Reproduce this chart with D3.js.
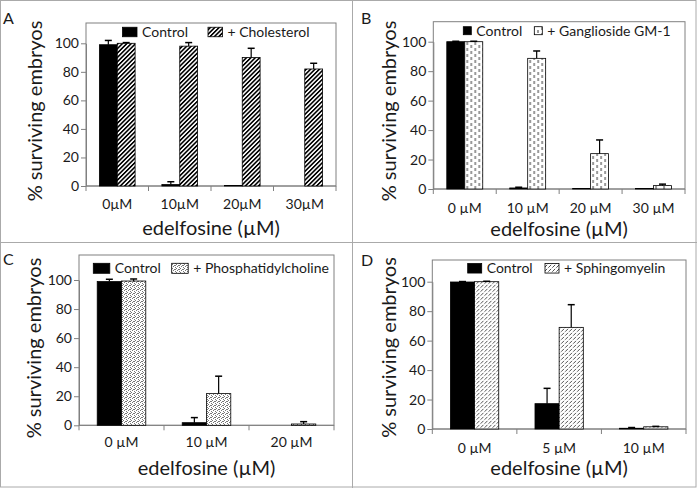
<!DOCTYPE html>
<html>
<head>
<meta charset="utf-8">
<script src="https://cdn.jsdelivr.net/npm/d3@7"></script>
<style>
  body { margin: 0; background: #fff; }
  svg text { font-family: Lato, "Open Sans", sans-serif; fill: #1a1a1a; }
</style>
</head>
<body>
<div id="chart"></div>
<script>
'use strict';

// ---- data ----
const yTicks = [0, 20, 40, 60, 80, 100];

const catsA = ["0µM", "10µM", "20µM", "30µM"];
const controlA = [99, 1, 0.3, 0];
const controlErrA = [3, 2, 0, 0];
const treatedA = [100, 98, 90, 82];
const treatedErrA = [0.5, 2.5, 6.5, 4];
const legendA = ["Control", "+ Cholesterol"];

const catsB = ["0 µM", "10 µM", "20 µM", "30 µM"];
const controlB = [100, 0.7, 0.3, 0.3];
const controlErrB = [0.3, 0.5, 0, 0];
const treatedB = [100, 88.7, 24, 2.3];
const treatedErrB = [0.3, 5, 9.3, 1];
const legendB = ["Control", "+ Ganglioside GM-1"];

const catsC = ["0 µM", "10 µM", "20 µM"];
const controlC = [98.9, 1.8, 0];
const controlErrC = [1.6, 3.5, 0];
const treatedC = [99.3, 21.8, 0.9];
const treatedErrC = [1.4, 12, 1.6];
const legendC = ["Control", "+ Phosphatidylcholine"];

const catsD = ["0 µM", "5 µM", "10 µM"];
const controlD = [99.8, 17.2, 0.5];
const controlErrD = [0.3, 10.4, 0.5];
const treatedD = [100, 69, 1.5];
const treatedErrD = [0.3, 15.4, 0.3];
const legendD = ["Control", "+ Sphingomyelin"];

// ---- layout of each panel (pixels) ----
const panels = [
    { letter: "A", lx: 3, ly: 24, cats: catsA, control: controlA, controlErr: controlErrA, treated: treatedA, treatedErr: treatedErrA, legend: legendA, fill: "url(#diag-wide)",
      left: 86, right: 336, top: 23, zeroY: 186, hundredY: 43.3, labelX: 35, labelY: 111, tickY: 204, titleY: 228,
      legY: 32, sw: 14.5, sh: 9.5, ctrlX: 122.5, trtX: 208 },
    { letter: "B", lx: 361, ly: 24, cats: catsB, control: controlB, controlErr: controlErrB, treated: treatedB, treatedErr: treatedErrB, legend: legendB, fill: "url(#dash-vert)",
      left: 433.3, right: 685, top: 21.7, zeroY: 189, hundredY: 41.7, labelX: 388.5, labelY: 111, tickY: 208.3, titleY: 228.7,
      legY: 30.7, sw: 8, sh: 8, ctrlX: 463.3, trtX: 534.3 },
    { letter: "C", lx: 3, ly: 265, cats: catsC, control: controlC, controlErr: controlErrC, treated: treatedC, treatedErr: treatedErrC, legend: legendC, fill: "url(#stipple)",
      left: 79, right: 334, top: 255, zeroY: 425.3, hundredY: 280, labelX: 33.5, labelY: 348, tickY: 442.3, titleY: 467.7,
      legY: 268.3, sw: 16.5, sh: 10, ctrlX: 93.3, trtX: 171.7 },
    { letter: "D", lx: 361, ly: 266, cats: catsD, control: controlD, controlErr: controlErrD, treated: treatedD, treatedErr: treatedErrD, legend: legendD, fill: "url(#dash-diag)",
      left: 432.3, right: 686, top: 260, zeroY: 429, hundredY: 281.7, labelX: 389, labelY: 347.5, tickY: 448.3, titleY: 467.7,
      legY: 268.3, sw: 14, sh: 9.5, ctrlX: 467.7, trtX: 545 }
];

const width = 697, height = 488;

const svg = d3.select("#chart").append("svg")
    .attr("width", width)
    .attr("height", height);

// fill patterns
const defs = svg.append("defs");

const pA = defs.append("pattern").attr("id", "diag-wide")
    .attr("patternUnits", "userSpaceOnUse")
    .attr("width", 3.1).attr("height", 3.1)
    .attr("patternTransform", "rotate(45)");
pA.append("rect").attr("width", 3.1).attr("height", 3.1).attr("fill", "#fff");
pA.append("rect").attr("width", 1.6).attr("height", 3.1).attr("fill", "#000");

const pB = defs.append("pattern").attr("id", "dash-vert")
    .attr("patternUnits", "userSpaceOnUse")
    .attr("width", 8).attr("height", 6);
pB.append("rect").attr("width", 8).attr("height", 6).attr("fill", "#fff");
pB.append("rect").attr("x", 1.5).attr("y", 0).attr("width", 1).attr("height", 3).attr("fill", "#333");
pB.append("rect").attr("x", 5.5).attr("y", 3).attr("width", 1).attr("height", 3).attr("fill", "#333");

const pC = defs.append("pattern").attr("id", "stipple")
    .attr("patternUnits", "userSpaceOnUse")
    .attr("width", 4).attr("height", 4);
pC.append("rect").attr("width", 4).attr("height", 4).attr("fill", "#fff");
[[0, 0], [2, 1], [1, 2], [3, 3], [3, 1]].forEach(p => {
    pC.append("rect").attr("x", p[0]).attr("y", p[1]).attr("width", 1).attr("height", 1).attr("fill", "#777");
});

const pD = defs.append("pattern").attr("id", "dash-diag")
    .attr("patternUnits", "userSpaceOnUse")
    .attr("width", 4).attr("height", 4);
pD.append("rect").attr("width", 4).attr("height", 4).attr("fill", "#fff");
pD.append("path").attr("d", "M0.3,3.7 L3.2,0.8").attr("stroke", "#222").attr("stroke-width", 0.8);

// outer grid of panel borders
svg.append("rect")
    .attr("x", 0.5).attr("y", 0.5)
    .attr("width", width - 1.5).attr("height", height - 1.5)
    .attr("fill", "none").attr("stroke", "#aaa");
svg.append("line").attr("x1", 352.5).attr("x2", 352.5).attr("y1", 0).attr("y2", height)
    .attr("stroke", "#aaa");
svg.append("line").attr("x1", 0).attr("x2", width).attr("y1", 242.5).attr("y2", 242.5)
    .attr("stroke", "#aaa");

const drawPanel = (p) => {
    const g = svg.append("g");

    const y = d3.scaleLinear().domain([0, 100]).range([p.zeroY, p.hundredY]);
    const x0 = d3.scaleBand().domain(p.cats).range([p.left, p.right]);
    const x1 = d3.scaleBand().domain(["control", "treated"])
        .range([0, x0.bandwidth()]).paddingOuter(0.75);

    // plot frame
    g.append("rect")
        .attr("x", p.left).attr("y", p.top)
        .attr("width", p.right - p.left).attr("height", p.zeroY - p.top)
        .attr("fill", "none").attr("stroke", "#808080").attr("stroke-width", 1);

    // panel letter
    g.append("text").attr("x", p.lx).attr("y", p.ly)
        .style("font-size", "16px").text(p.letter);

    // y axis
    const yAxis = g.append("g")
        .attr("transform", `translate(${p.left},0)`)
        .call(d3.axisLeft(y).tickValues(yTicks).tickSize(5).tickSizeOuter(0).tickPadding(2));
    yAxis.select(".domain").attr("stroke", "#808080");
    yAxis.selectAll(".tick line").attr("stroke", "#808080");
    yAxis.selectAll(".tick text").style("font-size", "14px").style("font-family", "Lato, sans-serif").attr("fill", "#1a1a1a");

    // x axis: line + boundary ticks
    g.append("line").attr("x1", p.left).attr("x2", p.right)
        .attr("y1", p.zeroY).attr("y2", p.zeroY).attr("stroke", "#808080");
    const bounds = p.cats.map(c => x0(c)).concat([p.right]);
    g.selectAll(".xtick").data(bounds).enter().append("line")
        .attr("x1", d => d).attr("x2", d => d)
        .attr("y1", p.zeroY).attr("y2", p.zeroY + 5)
        .attr("stroke", "#808080");
    g.selectAll(".xlabel").data(p.cats).enter().append("text")
        .attr("x", d => x0(d) + x0.bandwidth() / 2)
        .attr("y", p.tickY).attr("dy", "0.35em")
        .attr("text-anchor", "middle")
        .style("font-size", "14px")
        .text(d => d);

    // axis titles
    g.append("text")
        .attr("x", (p.left + p.right) / 2).attr("y", p.titleY).attr("dy", "0.35em")
        .attr("text-anchor", "middle")
        .style("font-size", "20px")
        .text("edelfosine (µM)");
    g.append("text")
        .attr("transform", `translate(${p.labelX},${p.labelY}) rotate(-90)`)
        .attr("dy", "0.35em")
        .attr("text-anchor", "middle")
        .style("font-size", "20px")
        .text("% surviving embryos");

    // bars
    const rows = p.cats.map((c, i) => ({
        cat: c,
        bars: [
            { key: "control", v: p.control[i], e: p.controlErr[i] },
            { key: "treated", v: p.treated[i], e: p.treatedErr[i] }
        ]
    }));
    const grp = g.selectAll(".cat").data(rows).enter().append("g")
        .attr("transform", d => `translate(${x0(d.cat)},0)`);
    grp.selectAll("rect").data(d => d.bars).enter().append("rect")
        .attr("x", d => x1(d.key))
        .attr("width", x1.bandwidth())
        .attr("y", d => y(d.v))
        .attr("height", d => y(0) - y(d.v))
        .attr("fill", d => d.key === "control" ? "#000" : p.fill)
        .attr("stroke", "#000")
        .attr("stroke-width", 0.8);

    // error bars (upper only)
    const err = grp.selectAll(".err").data(d => d.bars.filter(b => b.e > 0)).enter().append("g");
    err.append("line")
        .attr("x1", d => x1(d.key) + x1.bandwidth() / 2)
        .attr("x2", d => x1(d.key) + x1.bandwidth() / 2)
        .attr("y1", d => y(d.v)).attr("y2", d => y(d.v + d.e))
        .attr("stroke", "#000").attr("stroke-width", 1.2);
    err.append("line")
        .attr("x1", d => x1(d.key) + x1.bandwidth() / 2 - 3.5)
        .attr("x2", d => x1(d.key) + x1.bandwidth() / 2 + 3.5)
        .attr("y1", d => y(d.v + d.e)).attr("y2", d => y(d.v + d.e))
        .attr("stroke", "#000").attr("stroke-width", 1.5);

    // legend
    const leg = g.append("g");
    const items = [
        { x: p.ctrlX, fill: "#000", label: p.legend[0] },
        { x: p.trtX, fill: p.fill, label: p.legend[1] }
    ];
    items.forEach(it => {
        leg.append("rect")
            .attr("x", it.x).attr("y", p.legY - p.sh / 2)
            .attr("width", p.sw).attr("height", p.sh)
            .attr("fill", it.fill).attr("stroke", "#000").attr("stroke-width", 0.8);
        leg.append("text")
            .attr("x", it.x + p.sw + 5).attr("y", p.legY).attr("dy", "0.35em")
            .style("font-size", "14px")
            .text(it.label);
    });
};

panels.forEach(drawPanel);
</script>
</body>
</html>
